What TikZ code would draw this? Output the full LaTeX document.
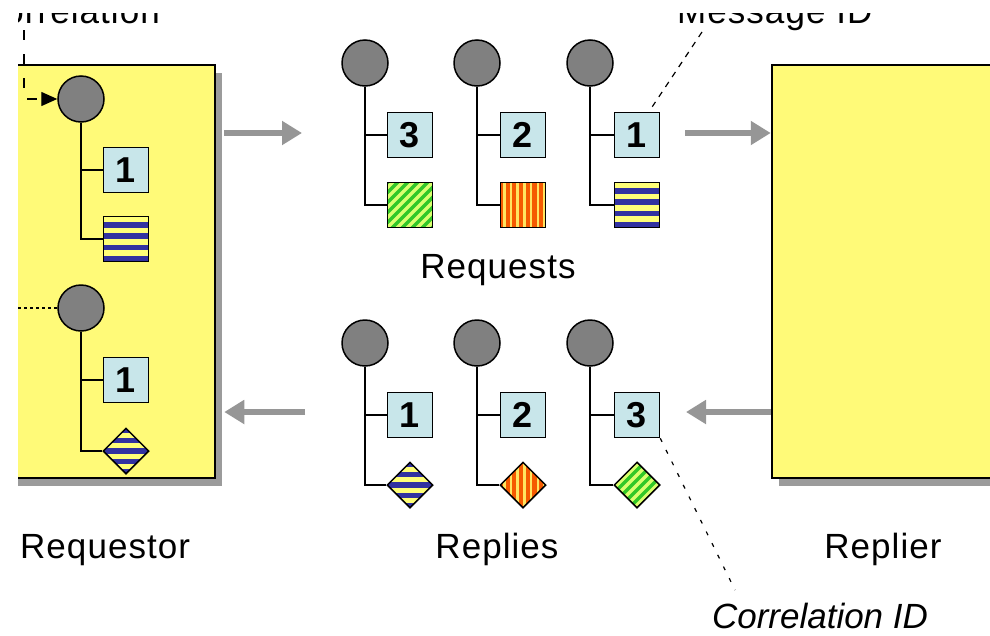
\documentclass[tikz,border=0pt]{standalone}
\usepackage{fontspec}
\setmainfont{Liberation Sans}
\usetikzlibrary{arrows.meta,shapes.geometric,shadows,calc}
\definecolor{boxyellow}{RGB}{255,250,120}
\definecolor{idblue}{RGB}{200,230,234}
\definecolor{headgray}{RGB}{128,128,128}
\definecolor{arrgray}{RGB}{150,150,150}
\definecolor{shadgray}{RGB}{155,155,155}
\definecolor{stripeblue}{RGB}{50,50,160}
\definecolor{stripeyellow}{RGB}{255,255,120}
\definecolor{stripeorange}{RGB}{245,90,0}
\definecolor{stripegreen}{RGB}{50,200,40}
\definecolor{stripelime}{RGB}{220,255,110}
\tikzset{
  head/.style={circle, draw=black, line width=1.5pt, fill=headgray, minimum size=46pt, inner sep=0pt},
  idbox/.style={rectangle, draw=black, line width=1.5pt, fill=idblue, minimum width=45pt, minimum height=45pt, inner sep=0pt, font=\fontsize{36}{36}\selectfont\bfseries},
  sqbody/.style={rectangle, draw=black, line width=1.5pt, minimum width=45pt, minimum height=45pt, inner sep=0pt},
  dmbody/.style={diamond, aspect=1, draw=black, line width=1.5pt, minimum width=46pt, minimum height=46pt, inner sep=0pt},
  hstripesq/.style={path picture={\begin{scope}[shift={(path picture bounding box.center)}]
      \fill[stripeyellow] (-30,-30) rectangle (30,30);
      \foreach \i in {1,3,5,7} \fill[stripeblue] (-30,{-22.5+\i*5.625}) rectangle (30,{-22.5+(\i+1)*5.625});
    \end{scope}}},
  hstripedm/.style={path picture={\begin{scope}[shift={(path picture bounding box.center)}]
      \fill[stripeyellow] (-30,-30) rectangle (30,30);
      \foreach \i in {0,2,4,6,8} \fill[stripeblue] (-30,{-23+\i*5.11}) rectangle (30,{-23+(\i+1)*5.11});
    \end{scope}}},
  vstripe/.style={path picture={\begin{scope}[shift={(path picture bounding box.center)}]
      \fill[stripeorange] (-30,-30) rectangle (30,30);
      \foreach \k in {0,...,6} \fill[stripeyellow!80!orange] ({-20+\k*6.7},-30) rectangle ({-17.5+\k*6.7},30);
    \end{scope}}},
  dstripe/.style={path picture={\begin{scope}[shift={(path picture bounding box.center)}]
      \fill[stripegreen] (-30,-30) rectangle (30,30);
      \foreach \k in {-60,-50,...,60} \draw[stripelime, line width=3.5pt] ({\k-30},30) -- ({\k+30},-30);
    \end{scope}}},
  stem/.style={draw=black, line width=2pt},
  bigbox/.style={rectangle, draw=black, line width=2.5pt, fill=boxyellow, minimum height=413pt,
    general shadow={fill=shadgray, shadow xshift=7pt, shadow yshift=-8pt}},
  grayarr/.style={draw=arrgray, line width=6pt, -{Triangle[length=20pt,width=23pt]}},
  leader/.style={draw=black, line width=1.2pt, dash pattern=on 6pt off 6pt},
  lbl/.style={inner sep=0pt, font=\fontsize{35}{40}\selectfont\addfontfeature{LetterSpace=3}},
}
\begin{document}
\begin{tikzpicture}[x=1pt,y=-1pt]
\useasboundingbox (0,0) rectangle (990,635);
\begin{scope}
\clip (18,13) rectangle (990,635);
% big boxes
\node[bigbox, minimum width=235pt] (reqor) at (97.5,271.5) {};
\node[bigbox, minimum width=238pt] (replier) at (891,271.5) {};

% labels
\node[lbl, anchor=base east] (corrlbl) at (160,23) {Correlation};
\node[lbl, anchor=base west] (msglbl) at (677,23) {Message ID};
\node[lbl, anchor=base west] (reqorlbl) at (20,558) {Requestor};
\node[lbl, anchor=base] (reqslbl) at (498,278) {Requests};
\node[lbl, anchor=base] (replslbl) at (497,558) {Replies};
\node[lbl, anchor=base] (replierlbl) at (883,558) {Replier};
\node[inner sep=0pt, anchor=base, font=\fontsize{35}{40}\selectfont\itshape] (corridlbl) at (820,628) {Correlation ID};

% requestor messages
\node[head] (hA) at (81,99) {};
\node[idbox] (iA) at (126,170) {1};
\node[sqbody, hstripesq] (bA) at (126,239) {};
\node[head] (hB) at (81,308) {};
\node[idbox] (iB) at (126,380) {1};
\node[dmbody, hstripedm] (bB) at (126,451) {};
\foreach \m in {A,B} {
  \draw[stem] (h\m.south) |- (i\m.west);
  \draw[stem] (h\m.south) |- (b\m.west);
}

% requests
\node[head] (qh1) at (365,63) {};
\node[idbox] (qi1) at (410,135) {3};
\node[sqbody, dstripe] (qb1) at (410,205) {};
\node[head] (qh2) at (477,63) {};
\node[idbox] (qi2) at (523,135) {2};
\node[sqbody, vstripe] (qb2) at (523,205) {};
\node[head] (qh3) at (590,63) {};
\node[idbox] (qi3) at (637,135) {1};
\node[sqbody, hstripesq] (qb3) at (637,205) {};

% replies
\node[head] (ph1) at (365,343) {};
\node[idbox] (pi1) at (410,415) {1};
\node[dmbody, hstripedm] (pb1) at (410,485) {};
\node[head] (ph2) at (477,343) {};
\node[idbox] (pi2) at (523,415) {2};
\node[dmbody, vstripe] (pb2) at (523,485) {};
\node[head] (ph3) at (590,343) {};
\node[idbox] (pi3) at (637,415) {3};
\node[dmbody, dstripe] (pb3) at (637,485) {};

\foreach \p in {q,p} \foreach \n in {1,2,3} {
  \draw[stem] (\p h\n.south) |- (\p i\n.west);
  \draw[stem] (\p h\n.south) |- (\p b\n.west);
}

% gray flow arrows
\coordinate (rqtip) at (302,133);
\coordinate (rqstart) at (685,133);
\coordinate (rpstart) at (305,412);
\coordinate (rptip) at (686,412);
\draw[grayarr] ([xshift=8pt]reqor.east |- rqtip) -- (rqtip);
\draw[grayarr] (rqstart) -- (replier.west |- rqstart);
\draw[grayarr] (replier.west |- rptip) -- (rptip);
\draw[grayarr] (rpstart) -- ([xshift=8pt]reqor.east |- rpstart);

% leaders
\coordinate (c0) at (24,30);
\draw[draw=black, line width=1.4pt, dash pattern=on 10pt off 14pt, -{Triangle[length=16pt,width=14pt]}] (c0) |- (hA.west);
\coordinate (d0) at (0,308);
\draw[draw=black, line width=1.4pt, dash pattern=on 3pt off 3pt] (d0) -- (hB.west);
\coordinate (m0) at (702,32);
\draw[leader] (m0) -- ([xshift=-8pt,yshift=5pt]qi3.north east);
\coordinate (c1) at (735,590);
\draw[leader, dash pattern=on 4pt off 9pt] (pi3.south east) -- (c1);
\end{scope}
\end{tikzpicture}
\end{document}
